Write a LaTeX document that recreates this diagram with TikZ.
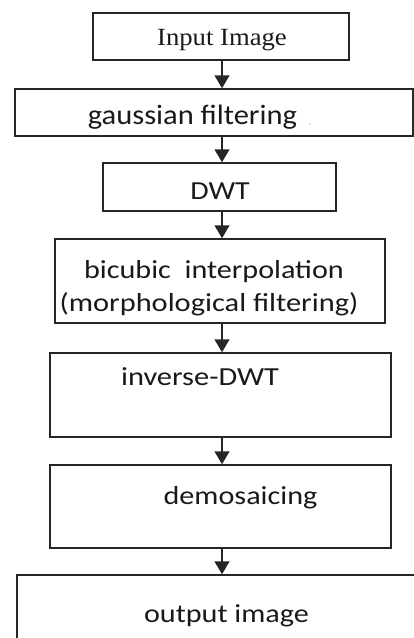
\documentclass[tikz,border=0pt]{standalone}
\usepackage{fontspec}
\setmainfont{Carlito}
\newfontfamily\timesfont{Liberation Serif}
\usetikzlibrary{arrows.meta}
\begin{document}
\begin{tikzpicture}[x=1pt,y=-1pt,
  box/.style={draw=black!85, line width=1.5pt, rectangle, inner sep=0pt},
  lbl/.style={anchor=base, inner sep=0pt, text=black!90, font=\fontsize{26}{30}\selectfont},
  flow/.style={draw=black!85, line width=1.5pt, -{Triangle[width=15pt,length=13pt]}}]
\useasboundingbox (0,0) rectangle (414,638);
\clip (0,0) rectangle (414,638);
% boxes
\node[box, minimum width=256pt, minimum height=47pt] (b1) at (221,36.5) {};
\node[box, minimum width=398pt, minimum height=47pt] (b2) at (214,112.5) {};
\node[box, minimum width=233pt, minimum height=48pt] (b3) at (219.5,187) {};
\node[box, minimum width=330pt, minimum height=84pt] (b4) at (220,281) {};
\node[box, minimum width=341pt, minimum height=84pt] (b5) at (220.5,395) {};
\node[box, minimum width=341pt, minimum height=83pt] (b6) at (220.5,506.5) {};
\node[box, minimum width=423pt, minimum height=85pt] (b7) at (228.5,617.5) {};
% texts
\node[lbl, font=\fontsize{24.7}{28}\selectfont] (t1) at (222,45) {\timesfont\scalebox{1.08}[1]{Input Image}};
\node[lbl, font=\fontsize{28}{32}\selectfont] (t2) at (192.5,124.5) {\scalebox{1.09}[1]{gaussian filtering}};
\node[lbl, text=black!25, font=\fontsize{14}{16}\selectfont] (t2dot) at (310,125) {.};
\node[lbl] (t3) at (220,199) {\scalebox{1.15}[1]{DWT}};
\node[lbl] (t4a) at (214,278.5) {\scalebox{1.16}[1]{bicubic\ \ interpolation}};
\node[lbl] (t4b) at (209,311) {\scalebox{1.17}[1]{(morphological filtering)}};
\node[lbl] (t5) at (200,385.5) {\scalebox{1.17}[1]{inverse-DWT}};
\node[lbl] (t6) at (240.5,504.5) {\scalebox{1.16}[1]{demosaicing}};
\node[lbl] (t7) at (226.5,622.5) {\scalebox{1.16}[1]{output image}};
% connectors
\coordinate (ax) at (222,0);
\draw[flow] (b1.south -| ax) -- (b2.north -| ax);
\draw[flow] (b2.south -| ax) -- (b3.north -| ax);
\draw[flow] (b3.south -| ax) -- (b4.north -| ax);
\draw[flow] (b4.south -| ax) -- (b5.north -| ax);
\draw[flow] (b5.south -| ax) -- (b6.north -| ax);
\draw[flow] (b6.south -| ax) -- (b7.north -| ax);
\end{tikzpicture}
\end{document}
